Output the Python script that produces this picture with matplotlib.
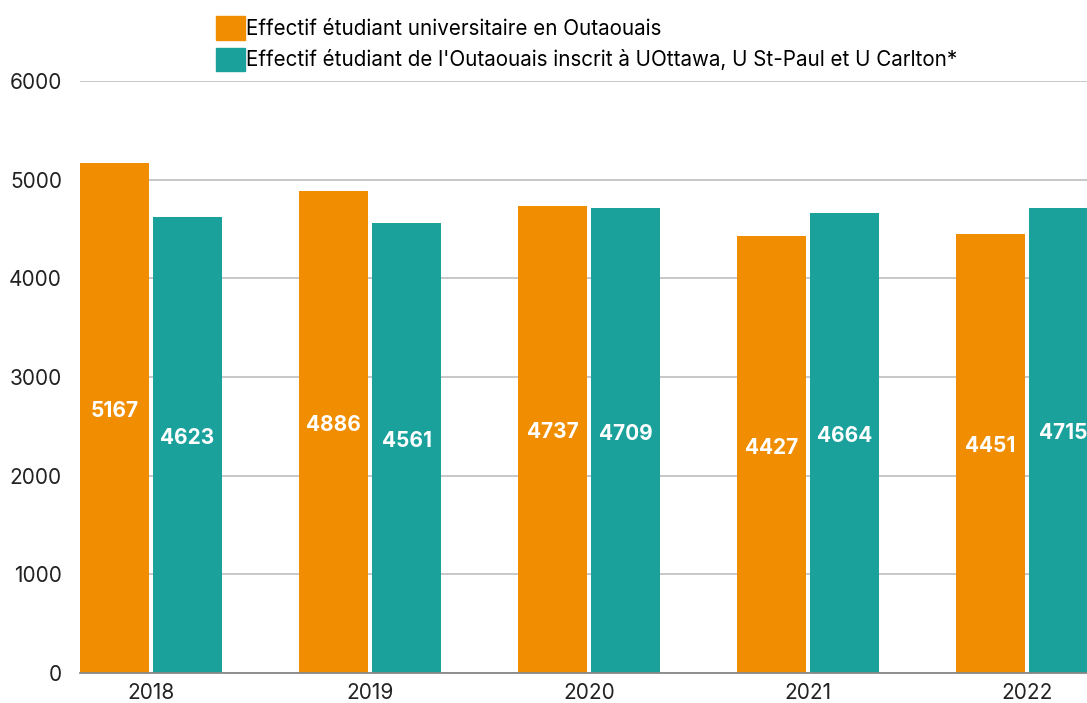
import numpy as np
import matplotlib.pyplot as plt
from matplotlib.patches import Patch

# data
years = ["2018", "2019", "2020", "2021", "2022"]
outaouais = [5167, 4886, 4737, 4427, 4451]
ottawa = [4623, 4561, 4709, 4664, 4715]
labels = [
    "Effectif étudiant universitaire en Outaouais",
    "Effectif étudiant de l'Outaouais inscrit à UOttawa, U St-Paul et U Carlton*",
]

orange = "#F08D00"
teal = "#1AA19C"

plt.rcParams["font.family"] = ["Inter", "DejaVu Sans"]

fig = plt.figure(figsize=(10.87, 7.03), dpi=100)
ax = fig.add_axes([80 / 1087, 1 - 673 / 703, 1 - 80 / 1087, (673 - 81) / 703])

x = np.arange(len(years))
w = 0.315
off = 0.167

b1 = ax.bar(x - off, outaouais, width=w, color=orange, zorder=3)
b2 = ax.bar(x + off, ottawa, width=w, color=teal, zorder=3)

for bars, vals in [(b1, outaouais), (b2, ottawa)]:
    for rect, v in zip(bars, vals):
        ax.annotate(str(v), (rect.get_x() + rect.get_width() / 2, v / 2),
                    xytext=(0, 5), textcoords="offset points",
                    ha="center", va="center", color="white",
                    fontsize=15, fontweight="bold", zorder=4)

ax.set_xlim(-0.324, 4.274)
ax.set_ylim(0, 6000)
ax.set_yticks(range(0, 6001, 1000))
ax.set_xticks(x)
ax.set_xticklabels(years)

ax.grid(axis="y", color="#c4c4c4", linewidth=1.3, zorder=0)
for s in ["top", "right", "left"]:
    ax.spines[s].set_visible(False)
ax.spines["bottom"].set_color("#888888")
ax.spines["bottom"].set_linewidth(1.3)
ax.spines["bottom"].set_zorder(5)
ax.tick_params(axis="both", length=0, labelsize=15, colors="#222222")
ax.tick_params(axis="y", pad=13)
ax.tick_params(axis="x", pad=7)

handles = [Patch(color=orange), Patch(color=teal)]
fig.legend(handles, labels, loc="upper left",
           bbox_to_anchor=(208 / 1087, 1 - 8 / 703),
           frameon=False, fontsize=14.85,
           handlelength=1.37, handleheight=1.37,
           handletextpad=0.05, labelspacing=0.38, borderaxespad=0)

fig.savefig("out.png", dpi=100)
